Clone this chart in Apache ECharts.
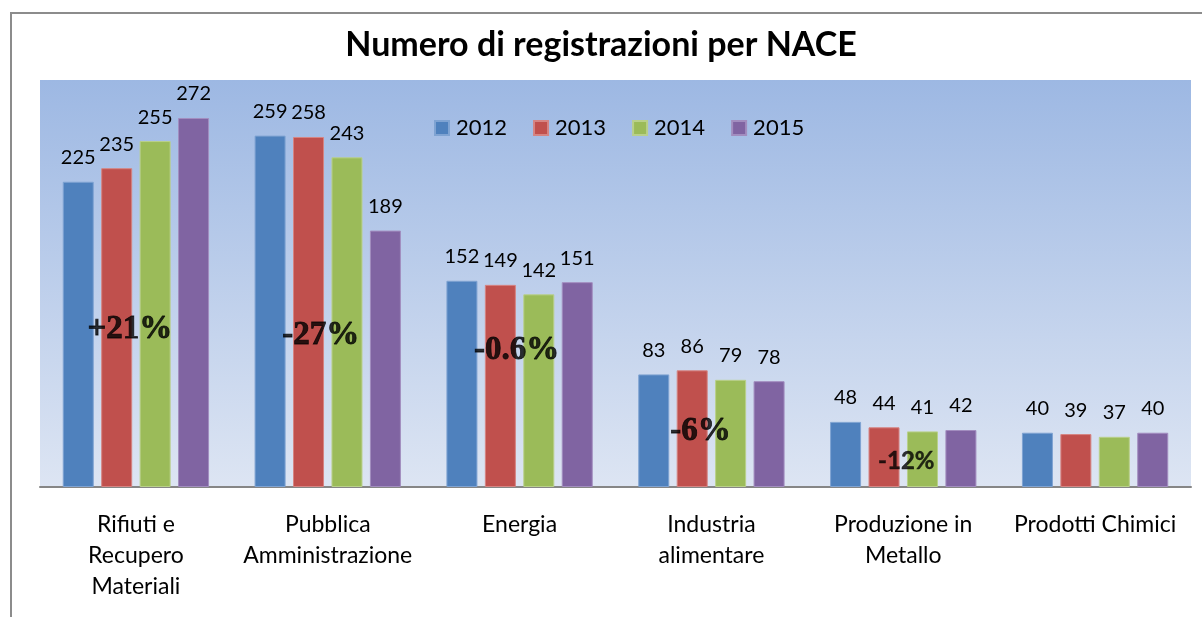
<!DOCTYPE html>
<html>
<head>
<meta charset="utf-8">
<script src="https://cdn.jsdelivr.net/npm/echarts@6/dist/echarts.min.js"></script>
<style>
  html, body { margin: 0; padding: 0; background: #fff; }
  #chart { width: 1202px; height: 617px; }
</style>
</head>
<body>
<div id="chart"></div>
<script>
  var categories = ['Rifiuti e\nRecupero\nMateriali', 'Pubblica\nAmministrazione', 'Energia',
                    'Industria\nalimentare', 'Produzione in\nMetallo', 'Prodotti Chimici'];
  var years = ['2012', '2013', '2014', '2015'];
  var v2012 = [225, 259, 152, 83, 48, 40];
  var v2013 = [235, 258, 149, 86, 44, 39];
  var v2014 = [255, 243, 142, 79, 41, 37];
  var v2015 = [272, 189, 151, 78, 42, 40];
  var colors = ['#4F81BD', '#C0504D', '#9BBB59', '#8064A2'];
  var borders = ['#7FA3D2', '#D68482', '#B9D08A', '#A28DBF'];

  // variazione 2012-2015, scritta dentro ai gruppi
  var annoText = ['+21%', '-27%', '-0.6%', '-6%', '-12%'];
  var annoCat = [0, 1, 2, 3, 4];
  var annoValue = [116, 112, 101, 41, 19];
  var annoDx = [-6, -7, -3, -11, 3];

  var chart = echarts.init(document.getElementById('chart'));
  var allValues = [v2012, v2013, v2014, v2015];

  var annoData = [];
  for (var k = 0; k < annoText.length; k++) {
    var serif = k < 4;
    annoData.push({
      value: [annoCat[k], annoValue[k]],
      label: {
        show: true,
        position: 'inside',
        formatter: annoText[k],
        offset: [annoDx[k], 0],
        color: '#000',
        textBorderColor: '#000',
        textBorderWidth: serif ? 0.8 : 0.4,
        fontFamily: serif ? 'Liberation Serif' : 'Lato',
        fontWeight: 'bold',
        fontSize: serif ? 33 : 24
      }
    });
  }

  var series = [];
  for (var i = 0; i < years.length; i++) {
    series.push({
      name: years[i],
      type: 'bar',
      data: allValues[i],
      barWidth: 31,
      barGap: '24%',
      itemStyle: { color: colors[i], borderColor: borders[i], borderWidth: 1 },
      label: {
        show: true,
        position: 'top',
        distance: 14,
        color: '#000',
        fontFamily: 'Lato, sans-serif',
        fontSize: 20
      }
    });
  }
  series.push({
    name: 'variazione',
    type: 'scatter',
    symbolSize: 0,
    silent: true,
    z: 10,
    data: annoData
  });

  chart.setOption({
    animation: false,
    color: colors,
    title: {
      text: 'Numero di registrazioni per NACE',
      left: 'center',
      top: 23,
      textStyle: { fontFamily: 'Lato, sans-serif', fontWeight: 'bold', fontSize: 34, color: '#000' }
    },
    legend: {
      top: 112,
      left: 429,
      itemWidth: 14,
      itemHeight: 14,
      itemGap: 26,
      icon: 'rect',
      textStyle: { fontFamily: 'Lato, sans-serif', fontSize: 22, color: '#000', padding: [0, 0, 0, 2] },
      data: years
    },
    graphic: [{
      type: 'rect',
      shape: { x: 11, y: 13, width: 1300, height: 700 },
      style: { fill: 'none', stroke: '#8c8c8c', lineWidth: 2 },
      silent: true
    }],
    grid: {
      left: 40, right: 11, top: 80, bottom: 130,
      show: true,
      borderWidth: 0,
      backgroundColor: new echarts.graphic.LinearGradient(0, 0, 0, 1, [
        { offset: 0, color: '#9DB8E3' },
        { offset: 1, color: '#DDE5F3' }
      ])
    },
    xAxis: {
      type: 'category',
      data: categories,
      axisLine: { lineStyle: { color: '#868686', width: 2 } },
      axisTick: { show: false },
      axisLabel: {
        interval: 0,
        margin: 22,
        lineHeight: 31,
        color: '#000',
        fontFamily: 'Lato, sans-serif',
        fontSize: 23
      }
    },
    yAxis: {
      type: 'value',
      min: 0,
      max: 300,
      show: false,
      splitLine: { show: false }
    },
    series: series
  });
</script>
</body>
</html>
